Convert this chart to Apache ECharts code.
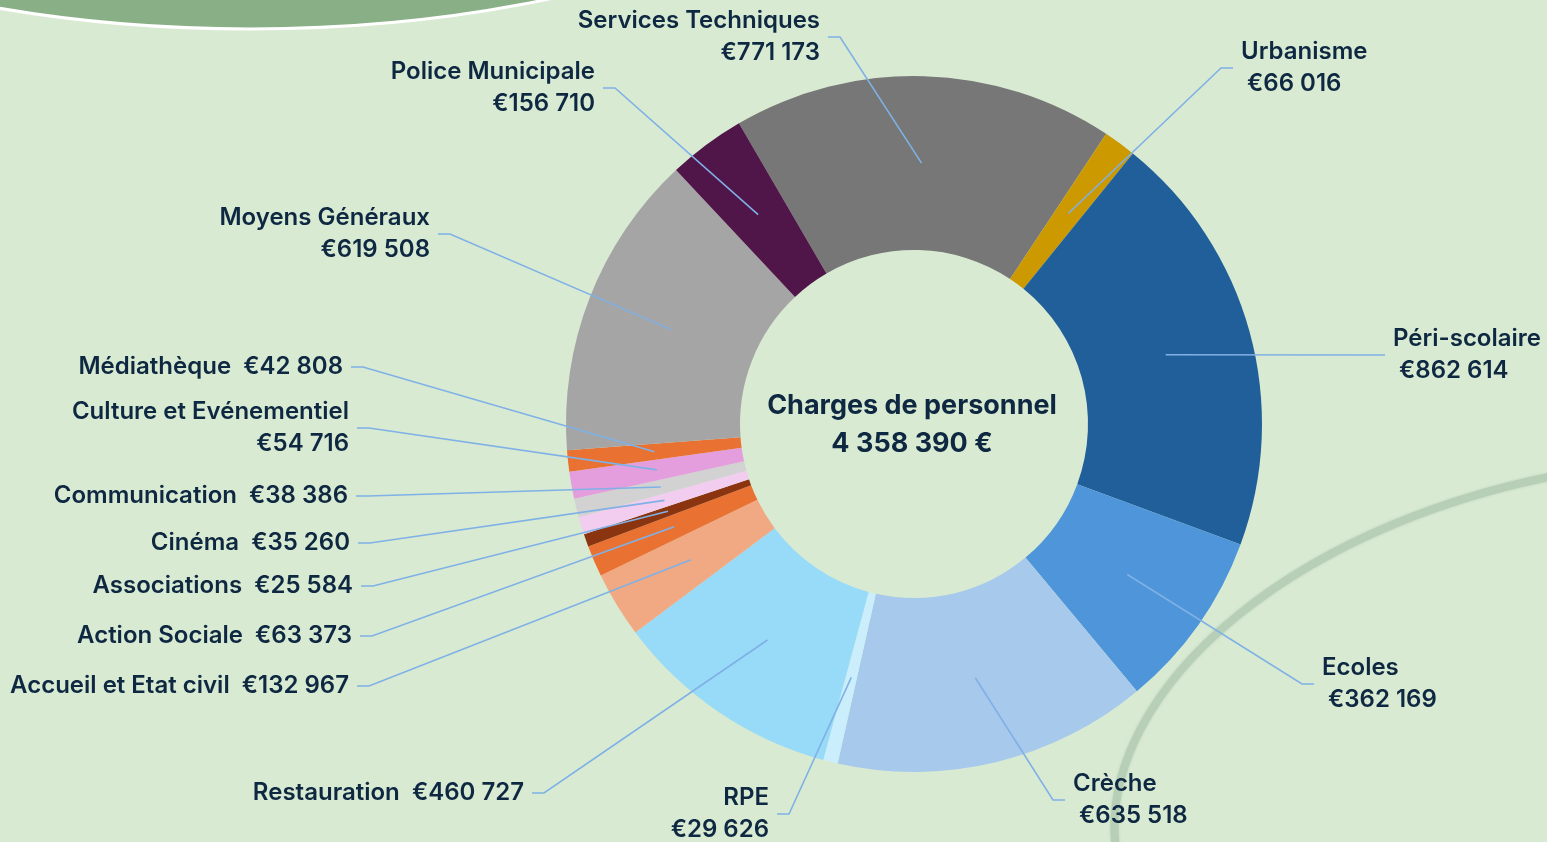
<!DOCTYPE html>
<html>
<head>
<meta charset="utf-8">
<title>Charges de personnel</title>
<script src="https://cdn.jsdelivr.net/npm/echarts@6/dist/echarts.min.js"></script>
<style>
  html, body { margin: 0; padding: 0; background: #d9ead3; }
  #main { width: 1547px; height: 842px; }
</style>
</head>
<body>
<div id="main"></div>
<script>
// services, dans l'ordre horaire à partir de Services Techniques
var categories = ['Services Techniques', 'Urbanisme', 'Péri-scolaire', 'Ecoles', 'Crèche', 'RPE',
  'Restauration', 'Accueil et Etat civil', 'Action Sociale', 'Associations', 'Cinéma',
  'Communication', 'Culture et Evénementiel', 'Médiathèque', 'Moyens Généraux', 'Police Municipale']
var values = [771173, 66016, 862614, 362169, 635518, 29626, 460727, 132967, 63373, 25584, 35260,
  38386, 54716, 42808, 619508, 156710]
var totalLabel = '4 358 390 €'
var colors = ['#777777', '#cc9900', '#215f9a', '#4e95d9', '#a6c9ec', '#caeefb', '#97dbf8', '#f1a983',
  '#e97132', '#8b3410', '#f2cdef', '#d2d2d2', '#e49edd', '#e97132', '#a5a5a5', '#501549']

// placement des étiquettes : x du texte, y du milieu, côté, sur une ligne
var labelX = [820, 1241, 1393, 1322, 1073, 769, 524, 349, 352, 353, 350, 348, 349, 343, 430, 595]
var labelY = [37, 68, 355, 684, 800, 814, 793, 686, 636, 586, 543, 496, 428, 367, 234, 88]
var labelSide = ['r', 'l', 'l', 'l', 'l', 'r', 'r', 'r', 'r', 'r', 'r', 'r', 'r', 'r', 'r', 'r']
var oneLine = [0, 0, 0, 0, 0, 0, 1, 1, 1, 1, 1, 1, 0, 1, 0, 0]

function fmt (v) {
  return '€' + String(v).replace(/\B(?=(\d{3})+(?!\d))/g, ' ')
}

var chart = echarts.init(document.getElementById('main'))

var pieCenter = [914, 424]
var pieRadius = [174, 348]
var pieStart = 120.2

// anneau coloré
var ringData = categories.map(function (c, i) {
  return { name: c, value: values[i], itemStyle: { color: colors[i] } }
})
// même anneau transparent par-dessus, pour que les traits passent sur les secteurs
var labelData = categories.map(function (c, i) {
  return { name: c, value: values[i] }
})

chart.setOption({
  backgroundColor: '#d9ead3',
  animation: false,
  graphic: [
    {
      type: 'ellipse',
      z: -10,
      shape: { cx: 250, cy: -285, rx: 700, ry: 314 },
      style: { fill: '#89af87', stroke: '#ffffff', lineWidth: 3 }
    },
    {
      type: 'bezierCurve',
      z: -10,
      shape: { x1: 1600, y1: 468, cpx1: 1300, cpy1: 512, cpx2: 1095, cpy2: 690, x2: 1116, y2: 850 },
      style: { stroke: '#b8cfb7', lineWidth: 8, fill: null, shadowBlur: 3, shadowColor: '#b8cfb7' }
    },
    {
      type: 'text',
      x: 912,
      y: 425,
      z: 10,
      style: {
        text: 'Charges de personnel\n' + totalLabel,
        fill: '#0e2841',
        font: 'bold 27px Inter',
        textAlign: 'center',
        textVerticalAlign: 'middle',
        lineHeight: 38
      }
    }
  ],
  series: [
    {
      type: 'pie',
      z: 2,
      center: pieCenter,
      radius: pieRadius,
      startAngle: pieStart,
      silent: true,
      label: { show: false },
      labelLine: { show: false },
      emphasis: { disabled: true },
      data: ringData
    },
    {
      type: 'pie',
      z: 3,
      center: pieCenter,
      radius: pieRadius,
      startAngle: pieStart,
      silent: true,
      avoidLabelOverlap: false,
      emphasis: { disabled: true },
      itemStyle: { color: 'rgba(0,0,0,0)' },
      label: {
        show: true,
        position: 'outside',
        color: '#0e2841',
        fontFamily: 'Inter',
        fontWeight: 600,
        fontSize: 24,
        lineHeight: 32,
        formatter: function (p) {
          var i = p.dataIndex
          if (oneLine[i]) return p.name + '  ' + fmt(p.value)
          return p.name + '\n' + (labelSide[i] === 'l' ? ' ' : '') + fmt(p.value)
        }
      },
      labelLine: {
        show: true,
        lineStyle: { color: '#7fb1e6', width: 1.6 }
      },
      labelLayout: function (params) {
        var i = params.dataIndex
        var lay = chart.getModel().getSeriesByIndex(params.seriesIndex).getData().getItemLayout(i)
        var mid = (lay.startAngle + lay.endAngle) / 2
        var r = (lay.r + lay.r0) / 2
        var ax = lay.cx + r * Math.cos(mid)
        var ay = lay.cy + r * Math.sin(mid)
        var x = labelX[i]
        var y = labelY[i]
        var d = labelSide[i] === 'l' ? -1 : 1
        return {
          x: x,
          y: y,
          align: labelSide[i] === 'l' ? 'left' : 'right',
          verticalAlign: 'middle',
          labelLinePoints: [[ax, ay], [x + d * 20, y], [x + d * 8, y]]
        }
      },
      data: labelData
    }
  ]
})
</script>
</body>
</html>
